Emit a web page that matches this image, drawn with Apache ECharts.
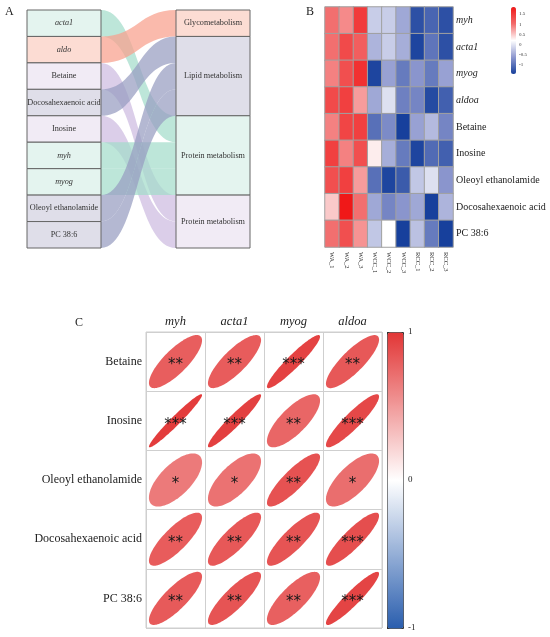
<!DOCTYPE html>
<html>
<head>
<meta charset="utf-8">
<script src="https://cdn.jsdelivr.net/npm/echarts@6/dist/echarts.min.js"></script>
<style>
html, body { margin: 0; padding: 0; background: #fff; }
#chart { width: 550px; height: 637px; }
</style>
</head>
<body>
<div id="chart"></div>
<script>
// ---- A: sankey ----
const sankeyLeft = ['acta1', 'aldo', 'Betaine', 'Docosahexaenoic acid', 'Inosine', 'myh', 'myog', 'Oleoyl ethanolamide', 'PC 38:6'];
const sankeyRight = ['Glycometabolism', 'Lipid metabolism', 'Protein metabolism', 'Protein metabolism'];
const sankeyTarget = [2, 0, 3, 1, 3, 2, 2, 1, 1]; // right node index for each left node
const sankeyFlow = [1, 1, 1, 1, 1, 1, 1, 1, 1];

// ---- B: heatmap ----
const heatCols = ['WA_1', 'WA_2', 'WA_3', 'WCC_1', 'WCC_2', 'WCC_3', 'RCC_1', 'RCC_2', 'RCC_3'];
const heatRows = ['myh', 'acta1', 'myog', 'aldoa', 'Betaine', 'Inosine', 'Oleoyl ethanolamide', 'Docosahexaenoic acid', 'PC 38:6'];
const heatValues = [
  [1.0, 0.85, 1.5, -0.2, -0.2, -0.5, -1.3, -1.1, -1.3],
  [1.0, 1.35, 1.15, -0.4, -0.2, -0.45, -1.4, -0.95, -1.3],
  [0.9, 1.3, 1.6, -1.4, -0.55, -0.9, -0.65, -0.9, -0.55],
  [1.35, 1.45, 0.75, -0.5, -0.05, -0.85, -0.8, -1.35, -1.15],
  [0.9, 1.4, 1.45, -1.0, -0.75, -1.45, -0.55, -0.35, -0.8],
  [1.45, 0.9, 1.3, 0.3, -0.45, -0.9, -1.4, -1.05, -1.15],
  [1.3, 1.45, 0.75, -1.0, -1.4, -1.2, -0.25, -0.05, -0.65],
  [0.5, 1.85, 1.0, -0.5, -0.8, -0.65, -0.5, -1.45, -0.4],
  [1.0, 1.3, 0.8, -0.25, 0.2, -1.45, -0.3, -0.9, -1.45]
];
const heatScaleTicks = [-1, -0.5, 0, 0.5, 1, 1.5];

// ---- C: correlation ----
const corrCols = ['myh', 'acta1', 'myog', 'aldoa'];
const corrRows = ['Betaine', 'Inosine', 'Oleoyl ethanolamide', 'Docosahexaenoic acid', 'PC 38:6'];
const corrValues = [
  [0.80, 0.81, 0.94, 0.83],
  [0.97, 0.95, 0.76, 0.91],
  [0.66, 0.70, 0.86, 0.72],
  [0.81, 0.83, 0.85, 0.88],
  [0.82, 0.85, 0.79, 0.93]
];
const corrStars = [
  ['**', '**', '***', '**'],
  ['***', '***', '**', '***'],
  ['*', '*', '**', '*'],
  ['**', '**', '**', '***'],
  ['**', '**', '**', '***']
];

const italicNames = ['acta1', 'aldo', 'aldoa', 'myh', 'myog'];
const SERIF = 'Liberation Serif';
const groupNodeColor = ['#fcdcd3', '#dfdee9', '#e4f4ef', '#f1ebf5'];
const groupLinkColor = ['#f8a08c', '#979dc0', '#a3dccb', '#cdbbe0'];

// sankey nodes: right nodes get unique ids, labels come from the arrays
const sankeyNodes = sankeyLeft.map((name, i) => ({
  name,
  itemStyle: { color: groupNodeColor[sankeyTarget[i]] },
  label: { fontStyle: italicNames.includes(name) ? 'italic' : 'normal' }
})).concat(sankeyRight.map((name, j) => ({
  name: 'R' + j,
  itemStyle: { color: groupNodeColor[j] }
})));
const sankeyLabels = sankeyLeft.concat(sankeyRight);
const sankeyLinks = sankeyLeft.map((name, i) => ({
  source: name,
  target: 'R' + sankeyTarget[i],
  value: sankeyFlow[i],
  lineStyle: { color: groupLinkColor[sankeyTarget[i]], opacity: 0.72 }
}));

const heatData = [];
heatValues.forEach((row, y) => row.forEach((v, x) => heatData.push([x, y, v])));

const corrData = [];
corrValues.forEach((row, y) => row.forEach((v, x) => corrData.push([x, y, v])));

function renderEllipse(params, api) {
  const c = api.coord([api.value(0), api.value(1)]);
  const cell = api.size([1, 1]);
  const h = Math.acos(api.value(2)) / 2;
  const rad = Math.min(cell[0], cell[1]) / 2 * 0.9;
  const pts = [];
  for (let i = 0; i < 96; i++) {
    const t = i / 96 * Math.PI * 2;
    pts.push([c[0] + rad * Math.cos(t + h), c[1] - rad * Math.cos(t - h)]);
  }
  const d = corrData[params.dataIndex];
  return {
    type: 'group',
    children: [
      { type: 'polygon', shape: { points: pts }, style: { fill: api.visual('color') } },
      {
        type: 'text', x: c[0], y: c[1] + 4,
        style: {
          text: corrStars[d[1]][d[0]], fill: '#1a1a1a', fontSize: 15,
          fontFamily: 'DejaVu Sans', align: 'center', verticalAlign: 'middle'
        }
      }
    ]
  };
}

const chart = echarts.init(document.getElementById('chart'));
const titleStyle = { fontFamily: SERIF, fontSize: 12, fontWeight: 'normal', color: '#222' };

chart.setOption({
  animation: false,
  backgroundColor: '#fff',
  title: [
    { text: 'A', left: 5, top: 6, padding: 0, textStyle: titleStyle },
    { text: 'B', left: 306, top: 6, padding: 0, textStyle: titleStyle },
    { text: 'C', left: 75, top: 317, padding: 0, textStyle: titleStyle }
  ],
  grid: [
    { left: 325, top: 7, width: 128, height: 240 },
    { left: 511, top: 7, width: 5, height: 67 },
    { left: 146, top: 332, width: 236, height: 296, show: true, borderColor: '#cfcfcf', borderWidth: 1 },
    { left: 387, top: 332, width: 16, height: 296 }
  ],
  xAxis: [
    {
      gridIndex: 0, type: 'category', data: heatCols,
      axisLine: { show: false }, axisTick: { show: false },
      axisLabel: { rotate: -90, fontSize: 6.5, margin: 5, fontFamily: SERIF, color: '#222' }
    },
    { gridIndex: 1, type: 'value', show: false },
    {
      gridIndex: 2, type: 'category', data: corrCols, position: 'top',
      axisLine: { show: false }, axisTick: { show: false },
      splitLine: { show: true, lineStyle: { color: '#cfcfcf', width: 1 } },
      axisLabel: { fontSize: 12.5, fontStyle: 'italic', fontFamily: SERIF, color: '#222', margin: 4 }
    },
    { gridIndex: 3, type: 'value', show: false }
  ],
  yAxis: [
    {
      gridIndex: 0, type: 'category', data: heatRows, inverse: true, position: 'right',
      axisLine: { show: false }, axisTick: { show: false },
      axisLabel: {
        fontSize: 10, fontFamily: SERIF, color: '#222', margin: 3,
        formatter: v => italicNames.includes(v) ? '{i|' + v + '}' : v,
        rich: { i: { fontSize: 10, fontFamily: SERIF, fontStyle: 'italic', color: '#222' } }
      }
    },
    {
      gridIndex: 1, type: 'value', min: -1.45, max: 1.85, position: 'right',
      axisLine: { show: false }, axisTick: { show: false }, splitLine: { show: false },
      axisLabel: { customValues: heatScaleTicks, fontSize: 5, margin: 3, fontFamily: SERIF, color: '#333' }
    },
    {
      gridIndex: 2, type: 'category', data: corrRows, inverse: true,
      axisLine: { show: false }, axisTick: { show: false },
      splitLine: { show: true, lineStyle: { color: '#cfcfcf', width: 1 } },
      axisLabel: { fontSize: 12, fontFamily: SERIF, color: '#222', margin: 4 }
    },
    {
      gridIndex: 3, type: 'value', min: -1, max: 1, interval: 1, position: 'right',
      axisLine: { show: false }, splitLine: { show: false },
      axisTick: { show: true, length: 3, lineStyle: { color: '#333' } },
      axisLabel: { fontSize: 9, margin: 5, fontFamily: SERIF, color: '#222' }
    }
  ],
  visualMap: [
    {
      type: 'continuous', seriesIndex: 1, dimension: 2, min: -1.45, max: 1.85,
      left: 511, top: 7, itemWidth: 5, itemHeight: 67, padding: 0,
      calculable: false, realtime: false, hoverLink: false,
      inRange: { color: ['#17409c', '#8e98cf', '#ffffff', '#f26a6a', '#f01818'] }
    },
    {
      type: 'continuous', seriesIndex: 2, dimension: 2, min: -1, max: 1,
      left: 387, top: 332, itemWidth: 16, itemHeight: 296, padding: 0,
      borderColor: '#333', borderWidth: 1,
      calculable: false, realtime: false, hoverLink: false,
      inRange: { color: ['#2a5eae', '#ffffff', '#e23636'] }
    }
  ],
  series: [
    {
      type: 'sankey',
      left: 27, top: 10, width: 223, height: 238,
      nodeWidth: 74, nodeGap: 0, layoutIterations: 0, draggable: false,
      emphasis: { disabled: true },
      data: sankeyNodes,
      links: sankeyLinks,
      itemStyle: { borderColor: '#666', borderWidth: 1 },
      lineStyle: { curveness: 0.5 },
      label: {
        position: 'inside', fontSize: 8.2, fontFamily: SERIF, color: '#333',
        formatter: p => sankeyLabels[p.dataIndex]
      }
    },
    {
      type: 'heatmap', xAxisIndex: 0, yAxisIndex: 0, data: heatData,
      itemStyle: { borderColor: '#a0a0a0', borderWidth: 1 },
      emphasis: { disabled: true }
    },
    {
      type: 'custom', xAxisIndex: 2, yAxisIndex: 2, data: corrData,
      encode: { x: 0, y: 1 },
      renderItem: renderEllipse
    }
  ]
});
</script>
</body>
</html>
